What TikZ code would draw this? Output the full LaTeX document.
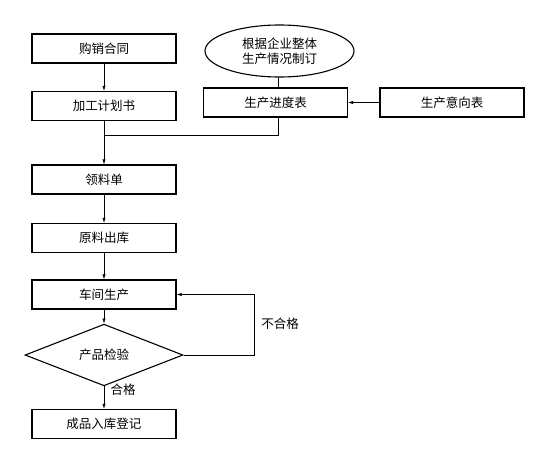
\documentclass[tikz,border=0pt]{standalone}
\usepackage{fontspec}
\newfontfamily\cjk{Noto Sans CJK SC}
\usetikzlibrary{shapes.geometric,arrows.meta}

\begin{document}
\begin{tikzpicture}[x=1pt,y=-1pt,
  every node/.style={font=\cjk\fontsize{12.5}{15}\selectfont},
  box/.style={draw,line width=1.1pt,minimum width=144pt,minimum height=29pt,inner sep=0pt},
  oval/.style={draw,ellipse,line width=1.1pt,minimum width=149pt,minimum height=52pt,inner sep=0pt,align=center},
  check/.style={draw,diamond,line width=1.1pt,minimum width=158pt,minimum height=40pt,inner sep=0pt},
  link/.style={line width=.6pt},
  arr/.style={link,-{Latex[length=5pt,width=3.2pt]}}]
\useasboundingbox (0,0) rectangle (550,464);
\node[box] (ht) at (104,48.5) {购销合同};
\node[box] (jh) at (104,106) {加工计划书};
\node[oval] (gd) at (279.5,51) {根据企业整体\\生产情况制订};
\node[box] (jd) at (275.5,102.5) {生产进度表};
\node[box] (yx) at (452,102.5) {生产意向表};
\node[box] (ll) at (104,179.5) {领料单};
\node[box] (cl) at (104,238) {原料出库};
\node[box] (sc) at (104,294.5) {车间生产};
\node[check] (jy) at (104,355) {产品检验};
\node[box] (rk) at (104,424) {成品入库登记};
\coordinate (hb) at (104,135);
\coordinate (fk) at (254,0);
\draw[arr] (ht) -- (jh);
\draw[arr] (jh) -- (ll);
\draw[link] (gd.south -| 278,0) -- (jd.north -| 278,0);
\draw[link] (jd.south -| 278,0) |- (hb);
\draw[arr] (yx) -- (jd);
\draw[arr] (ll) -- (cl);
\draw[arr] (cl) -- (sc);
\draw[arr] (sc) -- (jy);
\draw[arr] (jy) -- (rk);
\draw[arr] (jy.east) -- (jy.east -| fk) |- (sc.east);
\node (hg) at (123,390) {合格};
\node (bhg) at (280,324) {不合格};
\end{tikzpicture}
\end{document}
